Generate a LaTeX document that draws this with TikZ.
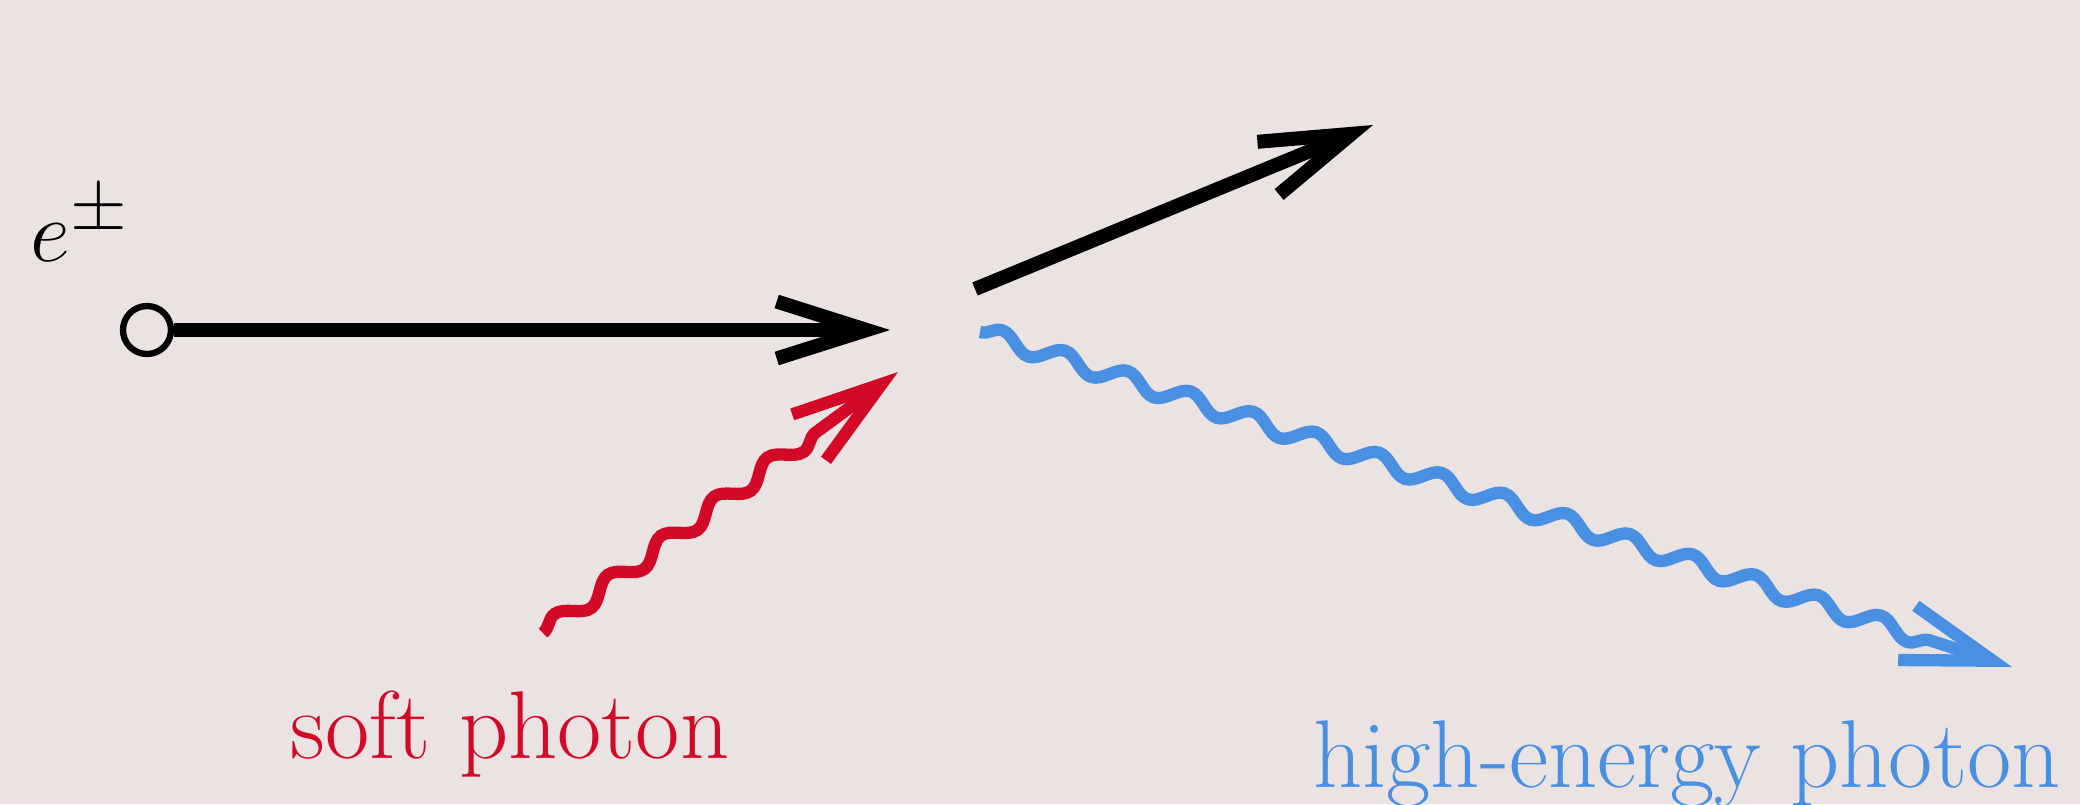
\documentclass[tikz,border=0pt]{standalone}
\usepackage{amsmath}
\usetikzlibrary{arrows.meta,decorations.pathmorphing}
\definecolor{bgpink}{RGB}{235,226,226}
\definecolor{softred}{RGB}{210,10,40}
\definecolor{hardblue}{RGB}{74,144,226}

\begin{document}
\begin{tikzpicture}[
  tip/.style={-{Straight Barb[length=0.9cm,width=0.57cm]}},
  lepton/.style={line width=4pt, tip},
  photon/.style={line width=3.5pt, tip, decorate,
    decoration={snake, amplitude=0.085cm, segment length=0.66cm, post length=0.7cm}},
  lbl/.style={font=\fontsize{27.4}{32}\selectfont, anchor=base}
]
  % background and frame
  \fill[bgpink] (0,0) rectangle (20.8,8.04);
  \useasboundingbox (0,0) rectangle (20.8,8.04);
  % incoming electron
  \node[circle, draw, line width=1.8pt, minimum size=0.48cm, inner sep=0pt] (src) at (1.47,4.74) {};
  \node[font=\fontsize{24.88}{30}\selectfont] (elbl) at (0.8,5.8) {$e^{\pm}$};
  % end points round the vertex
  \coordinate (inTip) at (8.90,4.74);
  \coordinate (outStart) at (9.75,5.15);
  \coordinate (outTip) at (13.73,6.79);
  \coordinate (softStart) at (5.43,1.71);
  \coordinate (softTip) at (8.98,4.32);
  \coordinate (hardStart) at (9.80,4.72);
  \coordinate (hardTip) at (20.12,1.37);
  % lines
  \draw[lepton] (src.east) -- (inTip);
  \draw[lepton] (outStart) -- (outTip);
  \draw[photon, softred] (softStart) -- (softTip);
  \draw[photon, hardblue] (hardStart) -- (hardTip);
  % labels
  \node[lbl, text=softred] (softlbl) at (5.10,0.46) {soft photon};
  \node[lbl, text=hardblue] (hardlbl) at (16.87,0.17) {high-energy photon};
\end{tikzpicture}
\end{document}
